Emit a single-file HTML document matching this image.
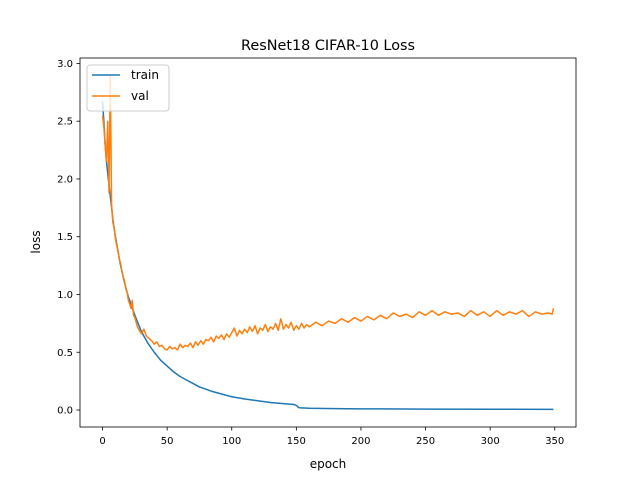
<!DOCTYPE html>
<html><head><meta charset="utf-8"><style>
body{margin:0;background:#fff;}
svg text{font-family:"DejaVu Sans","Liberation Sans",sans-serif;}
</style></head><body>
<svg id="chart" width="640" height="480" xmlns="http://www.w3.org/2000/svg">
<rect width="640" height="480" fill="#fff"/>
<text x="328" y="50" font-size="14.4" text-anchor="middle">ResNet18 CIFAR-10 Loss</text>
<g id="plot"></g>
<text x="328" y="468" font-size="12" text-anchor="middle">epoch</text>
<text transform="translate(40,242) rotate(-90)" font-size="12" text-anchor="middle">loss</text>
</svg>
<script>
const trainEpochs=[0,1,2,3,4,5,6,7,8,9,10,12,14,16,18,20,25,30,35,40,45,50,55,60,65,70,75,80,85,90,95,100,110,120,130,140,148,150,152,160,180,200,250,300,349];
const trainLoss=[2.67,2.5,2.3,2.15,2.05,1.95,1.85,1.75,1.65,1.57,1.5,1.37,1.25,1.15,1.06,0.98,0.82,0.68,0.58,0.5,0.43,0.38,0.33,0.29,0.26,0.23,0.2,0.18,0.16,0.145,0.13,0.115,0.095,0.08,0.065,0.055,0.048,0.04,0.02,0.015,0.012,0.01,0.008,0.007,0.006];
const valEpochs=[0,1,2,3,4,5,6,7,8,9,10,11,12,13,14,15,16,17,18,19,20,21,22,23,24,25,26,27,28,29,30,32,34,36,38,40,42,44,46,48,50,52,54,56,58,60,62,64,66,68,70,72,74,76,78,80,82,84,86,88,90,92,94,96,98,100,102,104,106,108,110,112,114,116,118,120,122,124,126,128,130,132,134,136,138,140,142,144,146,148,150,152,154,156,158,160,165,170,175,180,185,190,195,200,205,210,215,220,225,230,235,240,245,250,255,260,265,270,275,280,285,290,295,300,305,310,315,320,325,330,335,340,345,348,349];
const valLoss=[2.55,2.45,2.3,2.15,2.5,1.88,2.9,1.78,1.62,1.58,1.48,1.42,1.38,1.3,1.27,1.2,1.15,1.12,1.05,1.02,0.95,0.92,0.88,0.95,0.82,0.8,0.76,0.72,0.7,0.68,0.66,0.7,0.64,0.62,0.6,0.57,0.59,0.55,0.56,0.53,0.52,0.55,0.53,0.54,0.52,0.57,0.54,0.56,0.55,0.58,0.54,0.59,0.56,0.6,0.57,0.61,0.6,0.63,0.59,0.64,0.62,0.65,0.61,0.66,0.63,0.67,0.71,0.64,0.69,0.66,0.7,0.67,0.72,0.68,0.73,0.66,0.71,0.69,0.74,0.68,0.72,0.7,0.75,0.69,0.79,0.7,0.74,0.71,0.76,0.69,0.73,0.7,0.75,0.71,0.74,0.72,0.76,0.73,0.77,0.75,0.79,0.76,0.8,0.77,0.81,0.78,0.82,0.79,0.84,0.81,0.83,0.8,0.85,0.82,0.86,0.82,0.85,0.83,0.84,0.81,0.86,0.82,0.85,0.81,0.86,0.82,0.85,0.83,0.86,0.81,0.85,0.83,0.84,0.83,0.88];
const xTicks=[0,50,100,150,200,250,300,350];
const yTicks=[0,0.5,1.0,1.5,2.0,2.5,3.0];
const L=80,R=576,T=58,B=427;
const xmin=-17.45,xmax=366.45,ymin=-0.147,ymax=3.047;
const sx=v=>L+(v-xmin)/(xmax-xmin)*(R-L);
const sy=v=>B-(v-ymin)/(ymax-ymin)*(B-T);
const NS="http://www.w3.org/2000/svg";
const g=document.getElementById('plot');
function mk(t,a){const e=document.createElementNS(NS,t);for(const k in a)e.setAttribute(k,a[k]);g.appendChild(e);return e;}
function line(xs,ys,color,name){
  const d=xs.map((x,i)=>(i?'L':'M')+sx(x).toFixed(2)+','+sy(ys[i]).toFixed(2)).join('');
  const p=mk('path',{d:d,fill:'none',stroke:color,'stroke-width':1.5,'stroke-linejoin':'round'});
  
  
}
line(trainEpochs,trainLoss,'#1f77b4','train-line');
line(valEpochs,valLoss,'#ff7f0e','val-line');
const fr=mk('rect',{x:L,y:T,width:R-L,height:B-T,fill:'none',stroke:'#000','stroke-width':0.8});


xTicks.forEach(v=>{
  const x=sx(v);
  mk('line',{x1:x,x2:x,y1:B,y2:B+3.5,stroke:'#000','stroke-width':0.8});
  const t=mk('text',{x:x,y:B+17,'font-size':10,'text-anchor':'middle'});t.textContent=v;
  
  
});
yTicks.forEach(v=>{
  const y=sy(v);
  mk('line',{x1:L-3.5,x2:L,y1:y,y2:y,stroke:'#000','stroke-width':0.8});
  const t=mk('text',{x:L-7,y:y+3.5,'font-size':10,'text-anchor':'end'});t.textContent=v.toFixed(1);
  
  
});
const lg=mk('rect',{x:87,y:65,width:82,height:46,rx:3,fill:'#fff','fill-opacity':0.8,stroke:'#ccc'});


[['train','#1f77b4',75],['val','#ff7f0e',96]].forEach(([n,c,y])=>{
  mk('line',{x1:92,x2:120,y1:y,y2:y,stroke:c,'stroke-width':1.5});
  const t=mk('text',{x:131,y:y+4,'font-size':12});t.textContent=n;
  
  
});
</script>
</body></html>
